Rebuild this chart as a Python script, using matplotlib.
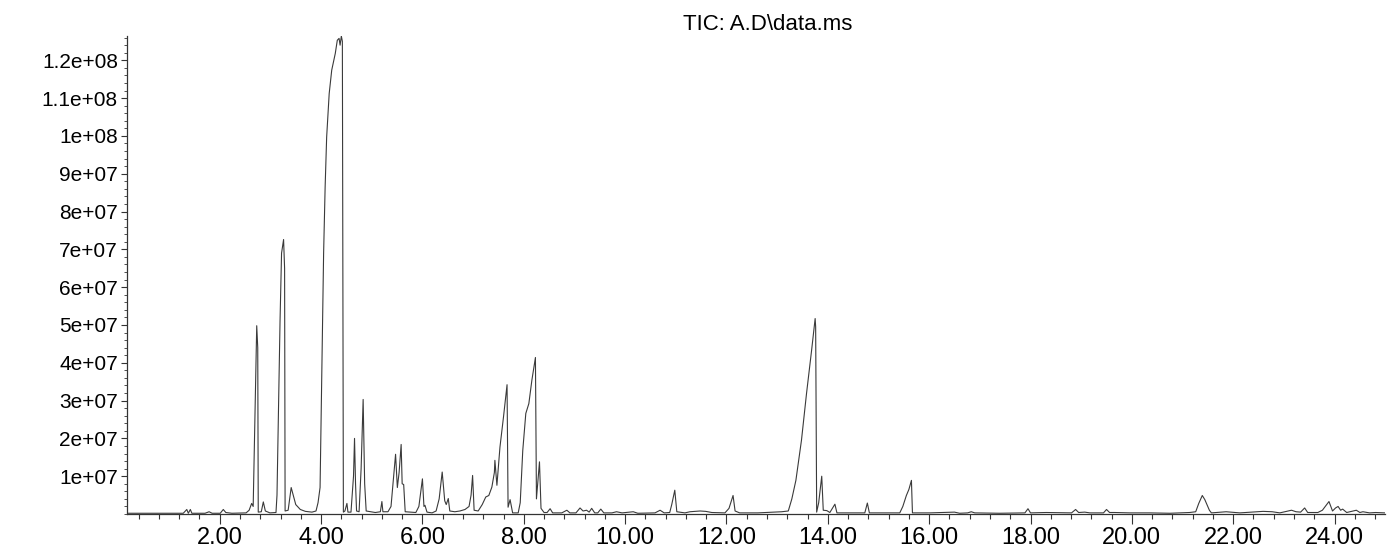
import numpy as np
import matplotlib
matplotlib.use("Agg")
import matplotlib.pyplot as plt
from matplotlib.ticker import FixedLocator, MultipleLocator

# retention time [min] and abundance [1e6 counts]
rt = [0.17, 1.28, 1.35, 1.38, 1.42, 1.45, 1.71, 1.79, 1.85, 2.01, 2.07, 2.12, 2.24,
      2.52, 2.58, 2.63, 2.66, 2.68, 2.73, 2.75, 2.76, 2.82, 2.86, 2.90, 2.99,
      3.11, 3.13, 3.17, 3.19, 3.22, 3.26, 3.28, 3.29, 3.35, 3.41, 3.45, 3.50, 3.59,
      3.69, 3.82, 3.90, 3.94, 3.98, 4.01, 4.05, 4.08, 4.11, 4.16, 4.21, 4.28, 4.32,
      4.355, 4.375, 4.40, 4.42, 4.44, 4.47, 4.51, 4.53, 4.59, 4.64, 4.66, 4.68, 4.70,
      4.75, 4.79, 4.83, 4.86, 4.89, 5.07, 5.17, 5.20, 5.22, 5.32, 5.38, 5.44, 5.47,
      5.505, 5.54, 5.58, 5.60, 5.63, 5.66, 5.76, 5.87, 5.93, 6.00, 6.03, 6.05, 6.09,
      6.19, 6.27, 6.33, 6.39, 6.44, 6.47, 6.51, 6.54, 6.64, 6.74, 6.84, 6.92, 6.96,
      6.99, 7.02, 7.10, 7.18, 7.25, 7.31, 7.37, 7.42, 7.43, 7.47, 7.53, 7.60, 7.67,
      7.69, 7.73, 7.78, 7.89, 7.93, 7.98, 8.04, 8.10, 8.16, 8.23, 8.25, 8.31, 8.34,
      8.40, 8.46, 8.52, 8.57, 8.75, 8.85, 8.91, 9.03, 9.11, 9.17, 9.24, 9.29, 9.34,
      9.40, 9.46, 9.52, 9.58, 9.74, 9.83, 9.94, 10.16, 10.25, 10.59, 10.69, 10.77,
      10.88, 10.92, 10.98, 11.02, 11.18, 11.28, 11.48, 11.59, 11.71, 11.97, 12.05,
      12.13, 12.17, 12.26, 12.62, 12.95, 13.09, 13.22, 13.29, 13.37, 13.48, 13.58,
      13.68, 13.75, 13.76, 13.78, 13.82, 13.88, 13.91, 13.98, 14.04, 14.14, 14.18,
      14.34, 14.73, 14.78, 14.82, 15.03, 15.42, 15.48, 15.55, 15.60, 15.65, 15.67,
      16.01, 16.50, 16.60, 16.76, 16.83, 16.90, 17.39, 17.89, 17.95, 18.00, 18.31,
      18.81, 18.89, 18.95, 19.07, 19.17, 19.44, 19.50, 19.56, 19.66, 19.96, 20.35,
      20.75, 21.14, 21.26, 21.32, 21.39, 21.44, 21.53, 21.57, 21.86, 22.13, 22.59,
      22.77, 22.92, 23.15, 23.24, 23.33, 23.41, 23.47, 23.67, 23.76, 23.89, 23.96,
      24.02, 24.07, 24.12, 24.16, 24.24, 24.43, 24.50, 24.56, 24.69, 24.81, 24.99]

abund = [0.2, 0.2, 1.2, 0.2, 1.2, 0.2, 0.2, 0.6, 0.2, 0.2, 1.2, 0.4, 0.2,
         0.3, 1.0, 2.8, 2.0, 16.0, 49.8, 44.0, 0.5, 0.6, 3.2, 0.8, 0.3,
         0.4, 5.0, 35.0, 51.0, 69.0, 72.6, 65.0, 0.8, 1.0, 7.0, 5.0, 2.5, 1.2,
         0.7, 0.5, 0.8, 3.0, 7.0, 34.4, 69.0, 86.5, 99.7, 111.2, 117.4, 121.8, 125.3,
         125.8, 124.0, 126.4, 125.0, 0.5, 0.8, 2.8, 0.5, 0.5, 10.0, 20.0, 8.0, 0.8,
         0.6, 12.0, 30.3, 8.0, 0.8, 0.4, 0.6, 3.3, 0.6, 0.6, 2.0, 11.0, 15.8,
         7.0, 11.0, 18.4, 8.0, 7.8, 0.6, 0.5, 0.4, 2.0, 9.3, 2.0, 2.3, 0.5,
         0.3, 0.8, 4.0, 11.1, 3.5, 2.5, 4.1, 0.8, 0.6, 0.8, 1.2, 2.0, 5.0,
         10.2, 1.0, 0.8, 2.5, 4.5, 4.9, 7.1, 11.0, 14.2, 7.6, 17.7, 25.7, 34.2,
         1.8, 3.8, 0.3, 0.3, 3.0, 16.8, 26.6, 29.2, 35.4, 41.4, 4.0, 13.8, 1.5,
         0.4, 0.4, 1.4, 0.3, 0.3, 1.0, 0.3, 0.3, 1.6, 0.8, 1.0, 0.5, 1.5,
         0.3, 0.3, 1.3, 0.3, 0.3, 0.6, 0.3, 0.6, 0.2, 0.3, 1.0, 0.3,
         0.4, 2.5, 6.3, 0.6, 0.3, 0.6, 0.8, 0.7, 0.4, 0.3, 1.5,
         4.9, 0.8, 0.3, 0.3, 0.5, 0.6, 0.8, 4.0, 8.9, 19.5, 31.9,
         43.3, 51.7, 49.5, 0.5, 3.0, 10.0, 1.0, 0.9, 0.4, 2.6, 0.3,
         0.3, 0.3, 2.9, 0.3, 0.3, 0.3, 2.0, 4.9, 6.5, 8.9, 0.3,
         0.3, 0.5, 0.2, 0.3, 0.6, 0.3, 0.2, 0.3, 1.4, 0.3, 0.4,
         0.3, 1.2, 0.4, 0.5, 0.3, 0.3, 1.2, 0.4, 0.4, 0.3, 0.3,
         0.2, 0.4, 0.6, 2.8, 4.9, 3.8, 1.0, 0.3, 0.6, 0.3, 0.7,
         0.6, 0.3, 1.0, 0.6, 0.5, 1.6, 0.4, 0.4, 1.0, 3.3, 0.8,
         1.6, 2.0, 1.0, 1.3, 0.4, 1.0, 0.4, 0.6, 0.3, 0.4, 0.3]

x_major = [2, 4, 6, 8, 10, 12, 14, 16, 18, 20, 22, 24]
x_labels = ["2.00", "4.00", "6.00", "8.00", "10.00", "12.00", "14.00", "16.00",
            "18.00", "20.00", "22.00", "24.00"]
y_major = [1e7, 2e7, 3e7, 4e7, 5e7, 6e7, 7e7, 8e7, 9e7, 1e8, 1.1e8, 1.2e8]
y_labels = ["1e+07", "2e+07", "3e+07", "4e+07", "5e+07", "6e+07", "7e+07",
            "8e+07", "9e+07", "1e+08", "1.1e+08", "1.2e+08"]

title = "TIC: A.D\\data.ms"

plt.rcParams['font.family'] = ['Liberation Sans', 'DejaVu Sans']

fig = plt.figure(figsize=(13.88, 5.47), dpi=100)
ax = fig.add_axes([0.0915, 0.0603, 0.9065, 0.8737])

t = np.array(rt)
y = np.array(abund) * 1e6
ax.plot(t, y, color="#3a3a3a", lw=0.8)

ax.set_xlim(0.17, 25.0)
ax.set_ylim(0, 1.264e8)

ax.xaxis.set_major_locator(FixedLocator(x_major))
ax.set_xticklabels(x_labels)
ax.xaxis.set_minor_locator(MultipleLocator(0.4))
ax.yaxis.set_major_locator(FixedLocator(y_major))
ax.set_yticklabels(y_labels)
ax.yaxis.set_minor_locator(MultipleLocator(2e6))

ax.tick_params(axis="x", which="major", length=7, width=0.8, pad=2,
               labelsize=17, color="#333333")
ax.tick_params(axis="x", which="minor", length=3.5, width=0.8, color="#333333")
ax.tick_params(axis="y", which="major", length=4.5, width=0.8, pad=2,
               labelsize=15, color="#333333")
ax.tick_params(axis="y", which="minor", length=2.2, width=0.6, color="#333333")

for s in ["top", "right"]:
    ax.spines[s].set_visible(False)
for s in ["left", "bottom"]:
    ax.spines[s].set_color("#333333")
    ax.spines[s].set_linewidth(0.9)

fig.text(0.553, 0.956, title, ha="center", va="center", fontsize=16)

fig.savefig("out.png", dpi=100)
